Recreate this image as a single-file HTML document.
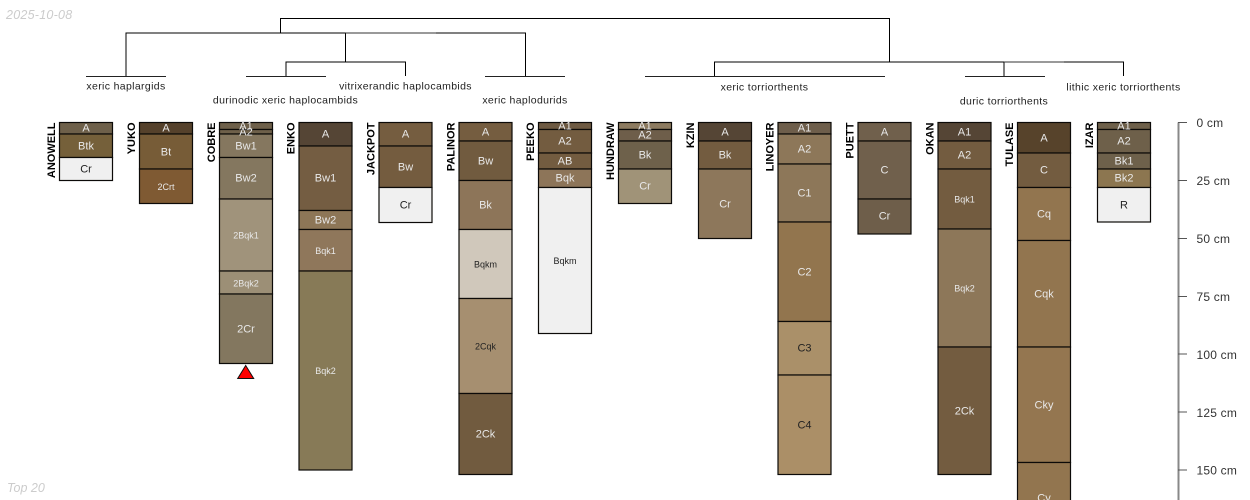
<!DOCTYPE html>
<html><head><meta charset="utf-8"><style>
html,body{margin:0;padding:0;background:#fff;width:1250px;height:500px;overflow:hidden}
svg{display:block;font-family:"Liberation Sans",sans-serif}
.h rect{stroke:#0c0a08;stroke-width:1.2}
.t text{font-size:11px;text-anchor:middle;dominant-baseline:central;fill:#e8e8e8}
.t text.s{font-size:9px}
.t text.d{fill:#222}
.n text{font-size:11px;font-weight:bold;fill:#000;text-anchor:end}
.l text{font-size:10.5px;text-anchor:middle;fill:#222;letter-spacing:.35px}
.a text{font-size:12px;fill:#333;dominant-baseline:central;letter-spacing:.2px}
</style></head><body>
<svg width="1250" height="500" viewBox="0 0 1250 500" xmlns="http://www.w3.org/2000/svg">
<text x="6" y="19" font-size="12.5" font-style="italic" fill="#ccc" letter-spacing=".25">2025-10-08</text>
<text x="7" y="492" font-size="12.5" font-style="italic" fill="#ccc">Top 20</text>

<g fill="none" stroke="#000" stroke-width="1">
<path d="M280.5 33V18.5H889.5V62"/>
<path d="M126 76V33H525.5V76"/>
<path d="M345.5 33V62"/>
<path d="M345.5 33H436" stroke="#333"/>
<path d="M286 76V62H405.5V76"/>
<path d="M714.5 76V62H1123.5V76"/>
<path d="M1004 62V76"/>
<path d="M1004 62H1064" stroke="#333"/>
<path d="M86 76.5H166M246 76.5H326M485 76.5H565M645 76.5H885M965 76.5H1045" stroke="#222"/>
</g>

<g class="l" transform="translate(0,-.5)">
<text x="126" y="90">xeric haplargids</text>
<text x="285.5" y="104">durinodic xeric haplocambids</text>
<text x="405.5" y="90">vitrixerandic haplocambids</text>
<text x="525" y="104">xeric haplodurids</text>
<text x="764.5" y="91">xeric torriorthents</text>
<text x="1004" y="105">duric torriorthents</text>
<text x="1123.5" y="91">lithic xeric torriorthents</text>
</g>

<g class="n">
<text transform="translate(55,122.5) rotate(-90)">ANOWELL</text>
<text transform="translate(135,122.5) rotate(-90)">YUKO</text>
<text transform="translate(215,122.5) rotate(-90)">COBRE</text>
<text transform="translate(294.5,122.5) rotate(-90)">ENKO</text>
<text transform="translate(374.5,122.5) rotate(-90)">JACKPOT</text>
<text transform="translate(454.5,122.5) rotate(-90)">PALINOR</text>
<text transform="translate(534,122.5) rotate(-90)">PEEKO</text>
<text transform="translate(614,122.5) rotate(-90)">HUNDRAW</text>
<text transform="translate(694,122.5) rotate(-90)">KZIN</text>
<text transform="translate(773.5,122.5) rotate(-90)">LINOYER</text>
<text transform="translate(853.5,122.5) rotate(-90)">PUETT</text>
<text transform="translate(933.5,122.5) rotate(-90)">OKAN</text>
<text transform="translate(1013,122.5) rotate(-90)">TULASE</text>
<text transform="translate(1093,122.5) rotate(-90)">IZAR</text>
</g>

<g class="h">
<rect x="59.5" y="122.5" width="53" height="11.5" fill="#6e604a"/>
<rect x="59.5" y="134" width="53" height="23.5" fill="#75603a"/>
<rect x="59.5" y="157.5" width="53" height="23" fill="#f0f0f0"/>

<rect x="139.5" y="122.5" width="53" height="11.5" fill="#55412b"/>
<rect x="139.5" y="134" width="53" height="35" fill="#775c37"/>
<rect x="139.5" y="169" width="53" height="34.5" fill="#7f5a33"/>

<rect x="219.5" y="122.5" width="53" height="7" fill="#6e604a"/>
<rect x="219.5" y="129.5" width="53" height="4.5" fill="#6e604a"/>
<rect x="219.5" y="134" width="53" height="23.5" fill="#85775f"/>
<rect x="219.5" y="157.5" width="53" height="41.5" fill="#84775f"/>
<rect x="219.5" y="199" width="53" height="72" fill="#a0937b"/>
<rect x="219.5" y="271" width="53" height="23" fill="#9c8f76"/>
<rect x="219.5" y="294" width="53" height="69.5" fill="#83775f"/>

<rect x="299" y="122.5" width="53" height="23.5" fill="#554535"/>
<rect x="299" y="146" width="53" height="64.5" fill="#745d42"/>
<rect x="299" y="210.5" width="53" height="19" fill="#8d7657"/>
<rect x="299" y="229.5" width="53" height="41.5" fill="#8f775b"/>
<rect x="299" y="271" width="53" height="199" fill="#877a57"/>

<rect x="379" y="122.5" width="53" height="23.5" fill="#755d40"/>
<rect x="379" y="146" width="53" height="41.5" fill="#745c3f"/>
<rect x="379" y="187.5" width="53" height="35" fill="#f0f0f0"/>

<rect x="459" y="122.5" width="53" height="18.5" fill="#755d40"/>
<rect x="459" y="141" width="53" height="39.5" fill="#715b3f"/>
<rect x="459" y="180.5" width="53" height="49" fill="#8d7559"/>
<rect x="459" y="229.5" width="53" height="69" fill="#d0c8bb"/>
<rect x="459" y="298.5" width="53" height="95" fill="#a68f70"/>
<rect x="459" y="393.5" width="53" height="81" fill="#715b3f"/>

<rect x="538.5" y="122.5" width="53" height="7" fill="#6e5a42"/>
<rect x="538.5" y="129.5" width="53" height="23.5" fill="#735c40"/>
<rect x="538.5" y="153" width="53" height="16" fill="#735c40"/>
<rect x="538.5" y="169" width="53" height="18.5" fill="#8d7559"/>
<rect x="538.5" y="187.5" width="53" height="146" fill="#f0f0f0"/>

<rect x="618.5" y="122.5" width="53" height="7" fill="#8d7b60"/>
<rect x="618.5" y="129.5" width="53" height="11.5" fill="#6e5e4a"/>
<rect x="618.5" y="141" width="53" height="28" fill="#6e614b"/>
<rect x="618.5" y="169" width="53" height="34.5" fill="#a09378"/>

<rect x="698.5" y="122.5" width="53" height="18.5" fill="#554535"/>
<rect x="698.5" y="141" width="53" height="28" fill="#735c40"/>
<rect x="698.5" y="169" width="53" height="69.5" fill="#8d775b"/>

<rect x="778" y="122.5" width="53" height="11.5" fill="#6e5e4b"/>
<rect x="778" y="134" width="53" height="30" fill="#8d7759"/>
<rect x="778" y="164" width="53" height="58" fill="#8d7759"/>
<rect x="778" y="222" width="53" height="99.5" fill="#92754e"/>
<rect x="778" y="321.5" width="53" height="53.5" fill="#aa9069"/>
<rect x="778" y="375" width="53" height="99.5" fill="#ab8f67"/>

<rect x="858" y="122.5" width="53" height="18.5" fill="#70604c"/>
<rect x="858" y="141" width="53" height="58" fill="#70604c"/>
<rect x="858" y="199" width="53" height="35" fill="#6e5e4a"/>

<rect x="938" y="122.5" width="53" height="18.5" fill="#554535"/>
<rect x="938" y="141" width="53" height="28" fill="#735c40"/>
<rect x="938" y="169" width="53" height="60" fill="#735c40"/>
<rect x="938" y="229" width="53" height="118" fill="#8d7759"/>
<rect x="938" y="347" width="53" height="127.5" fill="#735c40"/>

<rect x="1017.5" y="122.5" width="53" height="30.5" fill="#57432b"/>
<rect x="1017.5" y="153" width="53" height="34.5" fill="#735c40"/>
<rect x="1017.5" y="187.5" width="53" height="53" fill="#92754f"/>
<rect x="1017.5" y="240.5" width="53" height="106.5" fill="#92754f"/>
<rect x="1017.5" y="347" width="53" height="115.5" fill="#947650"/>
<rect x="1017.5" y="462.5" width="53" height="60" fill="#92754f"/>

<rect x="1097.5" y="122.5" width="53" height="7" fill="#6e604a"/>
<rect x="1097.5" y="129.5" width="53" height="23.5" fill="#6e604a"/>
<rect x="1097.5" y="153" width="53" height="16" fill="#6e614b"/>
<rect x="1097.5" y="169" width="53" height="18.5" fill="#8c7650"/>
<rect x="1097.5" y="187.5" width="53" height="34.5" fill="#f0f0f0"/>
</g>

<g class="t" transform="translate(0,.5)">
<text x="86" y="128">A</text><text x="86" y="146">Btk</text><text x="86" y="169" class="d">Cr</text>
<text x="166" y="128">A</text><text x="166" y="152">Bt</text><text x="166" y="186.5" class="s">2Crt</text>
<text x="246" y="126">A1</text><text x="246" y="132">A2</text><text x="246" y="146">Bw1</text><text x="246" y="178">Bw2</text><text x="246" y="235" class="s">2Bqk1</text><text x="246" y="283" class="s">2Bqk2</text><text x="246" y="329">2Cr</text>
<text x="325.5" y="134">A</text><text x="325.5" y="178">Bw1</text><text x="325.5" y="220">Bw2</text><text x="325.5" y="250.5" class="s">Bqk1</text><text x="325.5" y="370.5" class="s">Bqk2</text>
<text x="405.5" y="134">A</text><text x="405.5" y="167">Bw</text><text x="405.5" y="205" class="d">Cr</text>
<text x="485.5" y="132">A</text><text x="485.5" y="161">Bw</text><text x="485.5" y="205">Bk</text><text x="485.5" y="264" class="s d">Bqkm</text><text x="485.5" y="346" class="s d">2Cqk</text><text x="485.5" y="434">2Ck</text>
<text x="565" y="126">A1</text><text x="565" y="141">A2</text><text x="565" y="161">AB</text><text x="565" y="178">Bqk</text><text x="565" y="260.5" class="s d">Bqkm</text>
<text x="645" y="126">A1</text><text x="645" y="135">A2</text><text x="645" y="155">Bk</text><text x="645" y="186">Cr</text>
<text x="725" y="132">A</text><text x="725" y="155">Bk</text><text x="725" y="204">Cr</text>
<text x="804.5" y="128">A1</text><text x="804.5" y="149">A2</text><text x="804.5" y="193">C1</text><text x="804.5" y="272">C2</text><text x="804.5" y="348" class="d">C3</text><text x="804.5" y="425" class="d">C4</text>
<text x="884.5" y="132">A</text><text x="884.5" y="170">C</text><text x="884.5" y="216">Cr</text>
<text x="964.5" y="132">A1</text><text x="964.5" y="155">A2</text><text x="964.5" y="199" class="s">Bqk1</text><text x="964.5" y="288" class="s">Bqk2</text><text x="964.5" y="411">2Ck</text>
<text x="1044" y="138">A</text><text x="1044" y="170">C</text><text x="1044" y="214">Cq</text><text x="1044" y="294">Cqk</text><text x="1044" y="405">Cky</text><text x="1044" y="498">Cy</text>
<text x="1124" y="126">A1</text><text x="1124" y="141">A2</text><text x="1124" y="161">Bk1</text><text x="1124" y="178">Bk2</text><text x="1124" y="205" class="d">R</text>
</g>

<path d="M245.7 365.5L253.7 378.5H237.7Z" fill="#f00" stroke="#111" stroke-width="1"/>

<path d="M1178.5 122.5V500" stroke="#888" stroke-width="2" fill="none"/>
<path d="M1178 122.5H1187M1178 180.5H1187M1178 238.5H1187M1178 296.5H1187M1178 354H1187M1178 412H1187M1178 470H1187" stroke="#555" stroke-width="1" fill="none"/>
<g class="a" transform="translate(0,.5)">
<text x="1196.5" y="122.5">0 cm</text>
<text x="1196.5" y="180.5">25 cm</text>
<text x="1196.5" y="238.5">50 cm</text>
<text x="1196.5" y="296.5">75 cm</text>
<text x="1196.5" y="354.5">100 cm</text>
<text x="1196.5" y="412.5">125 cm</text>
<text x="1196.5" y="470">150 cm</text>
</g>
</svg>
</body></html>
